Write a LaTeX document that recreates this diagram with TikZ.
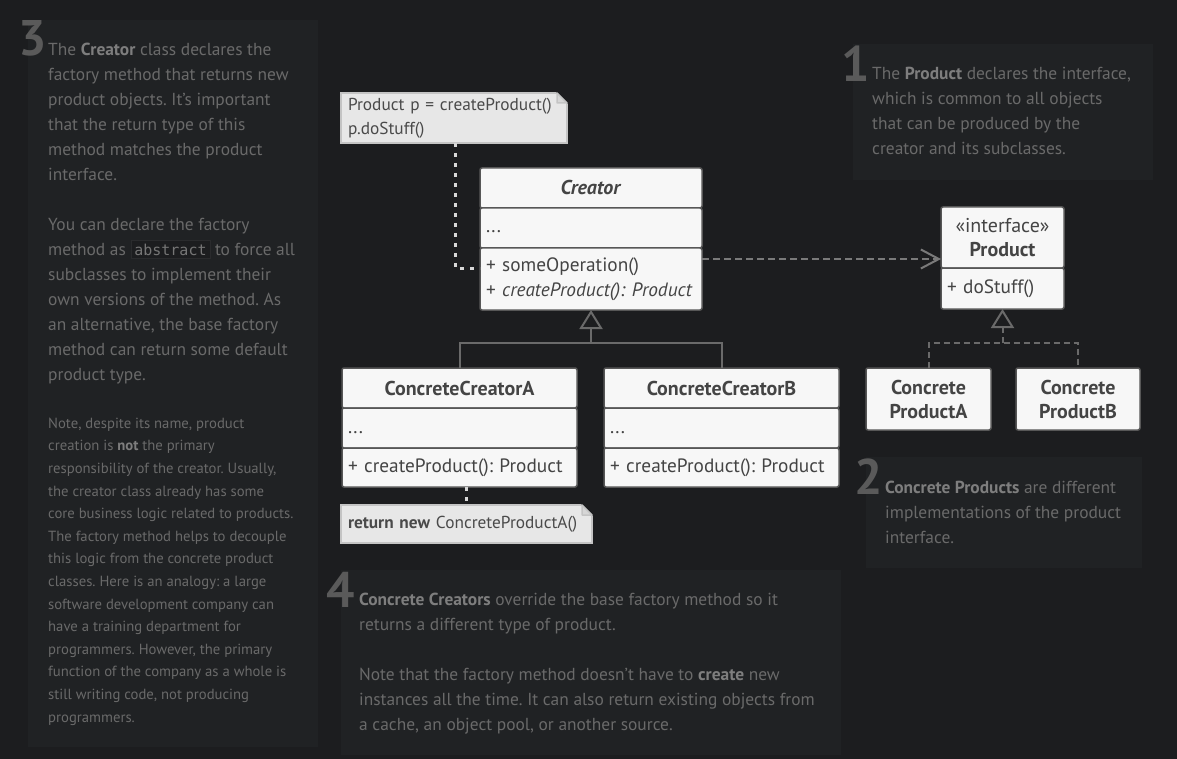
\documentclass[tikz,border=0pt]{standalone}
\usepackage{fontspec}
\setmainfont{PT Sans}
\setmonofont{DejaVu Sans Mono}
\usetikzlibrary{positioning,arrows.meta}
\frenchspacing

\definecolor{pagebg}{HTML}{1C1D1F}
\definecolor{panelbg}{HTML}{202224}
\definecolor{notetext}{HTML}{6A6A6A}
\definecolor{notebold}{HTML}{7E7E7E}
\definecolor{numcol}{HTML}{5A5A5A}
\definecolor{boxfill}{HTML}{F7F7F7}
\definecolor{boxline}{HTML}{575757}
\definecolor{classtext}{HTML}{444444}
\definecolor{memofill}{HTML}{E7E7E7}
\definecolor{memofold}{HTML}{D6D6D6}
\definecolor{memoline}{HTML}{C4C4C4}
\definecolor{memotext}{HTML}{4A4A4A}
\definecolor{memodot}{HTML}{D8D8D8}
\definecolor{linkcol}{HTML}{6A6A6A}
\definecolor{deplink}{HTML}{7A7A7A}
\definecolor{codebg}{HTML}{1C1D1F}
\definecolor{codeline}{HTML}{2A2B2D}
\definecolor{codetext}{HTML}{767676}

\newcommand{\term}[1]{\textbf{\color{notebold}#1}}
\newcommand{\codeword}[1]{{\setlength{\fboxsep}{3pt}\setlength{\fboxrule}{0.8pt}\fcolorbox{codeline}{codebg}{\fontsize{15}{15}\selectfont\ttfamily\color{codetext}#1}}}
\newcommand{\foldcorner}[1]{%
  \fill[pagebg] ([xshift=-11pt,yshift=1pt]#1.north east) -- ([xshift=1pt,yshift=1pt]#1.north east) -- ([xshift=1pt,yshift=-11pt]#1.north east) -- cycle;
  \filldraw[fill=memofold, draw=memoline, line width=1.5pt, line join=round] ([xshift=-10pt]#1.north east) -- ([xshift=-10pt,yshift=-10pt]#1.north east) -- ([yshift=-10pt]#1.north east) -- cycle;}

\tikzset{
  stepnum/.style={inner sep=0pt, text=numcol, font=\fontsize{50}{50}\selectfont\bfseries},
  panetext/.style={inner sep=0pt, align=left, text=notetext, font=\fontsize{17.4}{25}\selectfont},
  panesmall/.style={panetext, font=\fontsize{14.7}{22.6}\selectfont},
  classbox/.style={draw=boxline, fill=boxfill, line width=1.5pt, rounded corners=2pt, outer sep=0pt, text=classtext, font=\fontsize{19.3}{25}\selectfont},
  classtitle/.style={classbox, align=center, font=\fontsize{20}{24}\selectfont\bfseries},
  classpart/.style={classbox, align=left, inner xsep=6pt, inner ysep=0pt},
  memo/.style={draw=memoline, fill=memofill, line width=1.5pt, outer sep=0pt, text=memotext, align=left, inner xsep=7pt, inner ysep=0pt, font=\fontsize{17.3}{24}\selectfont},
  genline/.style={draw=linkcol, line width=2pt},
  gentip/.style={-{Triangle[open, length=19pt, width=23pt]}},
  realline/.style={genline, dash pattern=on 6pt off 4pt},
  depline/.style={draw=deplink, line width=2pt, dash pattern=on 7pt off 4pt, -{Straight Barb[length=18pt, width=19pt]}},
  memolink/.style={draw=memodot, line width=3pt, dash pattern=on 4pt off 6pt},
}

\begin{document}
\begin{tikzpicture}[x=1pt, y=-1pt]

\useasboundingbox (0,0) rectangle (1177,759);
\fill[pagebg] (0,0) rectangle (1177,759);

\fill[panelbg] (28,20) rectangle (318,747);
\fill[panelbg] (853,44) rectangle (1153,180);
\fill[panelbg] (866,457) rectangle (1142,568);
\fill[panelbg] (341,570) rectangle (841,755);

\node[stepnum, anchor=base west] (numcreator) at (18,56) {3};
\node[panetext, anchor=base west] (textcreator) at (48,380) {The \term{Creator} class declares the\\factory method that returns new\\product objects. It’s important\\that the return type of this\\method matches the product\\interface.\\[25pt]You can declare the factory\\method as \codeword{abstract} to force all\\subclasses to implement their\\own versions of the method. As\\an alternative, the base factory\\method can return some default\\product type.};
\node[panesmall, anchor=base west] (textcreatornote) at (48,722) {Note, despite its name, product\\creation is \term{not} the primary\\responsibility of the creator. Usually,\\the creator class already has some\\core business logic related to products.\\The factory method helps to decouple\\this logic from the concrete product\\classes. Here is an analogy: a large\\software development company can\\have a training department for\\programmers. However, the primary\\function of the company as a whole is\\still writing code, not producing\\programmers.};

\node[stepnum, anchor=base west] (numproduct) at (841,82) {1};
\node[panetext, anchor=base west] (textproduct) at (872,155) {The \term{Product} declares the interface,\\which is common to all objects\\that can be produced by the\\creator and its subclasses.};

\node[stepnum, anchor=base west] (numconcrete) at (854,494) {2};
\node[panetext, anchor=base west] (textconcrete) at (885,543) {\term{Concrete Products} are different\\implementations of the product\\interface.};

\node[stepnum, anchor=base west] (numcreators) at (326,607) {4};
\node[panetext, anchor=base west] (textcreators) at (359,730) {\term{Concrete Creators} override the base factory method so it\\returns a different type of product.\\[25pt]Note that the factory method doesn’t have to \term{create} new\\instances all the time. It can also return existing objects from\\a cache, an object pool, or another source.};

\node[classtitle, minimum width=222pt, minimum height=40pt, anchor=north west] (creator) at (480,168) {\textit{Creator}};
\node[classpart, text width=210pt, minimum height=40pt, below=0pt of creator] (creatorfields) {\strut...};
\node[classpart, text width=210pt, minimum height=62pt, below=0pt of creatorfields] (creatorops) {+ someOperation()\\+ \textit{createProduct(): Product}};

\node[classtitle, minimum width=123pt, minimum height=61pt, anchor=north west] (product) at (941,207) {{\mdseries «interface»}\\Product};
\node[classpart, text width=111pt, minimum height=41pt, below=0pt of product] (productops) {+ doStuff()};

\node[classtitle, minimum width=235pt, minimum height=40pt, anchor=north west] (creatora) at (342,368) {ConcreteCreatorA};
\node[classpart, text width=223pt, minimum height=40pt, below=0pt of creatora] (creatorafields) {\strut...};
\node[classpart, text width=223pt, minimum height=39pt, below=0pt of creatorafields] (creatoraops) {+ createProduct(): Product};

\node[classtitle, minimum width=235pt, minimum height=40pt, anchor=north west] (creatorb) at (604,368) {ConcreteCreatorB};
\node[classpart, text width=223pt, minimum height=40pt, below=0pt of creatorb] (creatorbfields) {\strut...};
\node[classpart, text width=223pt, minimum height=39pt, below=0pt of creatorbfields] (creatorbops) {+ createProduct(): Product};

\node[classtitle, minimum width=125pt, minimum height=62pt, anchor=north west] (producta) at (866,368) {Concrete\\ProductA};
\node[classtitle, minimum width=124pt, minimum height=62pt, anchor=north west] (productb) at (1016,368) {Concrete\\ProductB};

\node[memo, text width=212pt, minimum height=50pt, anchor=north west] (memocall) at (341,93) {Product p = createProduct()\\p.doStuff()};
\foldcorner{memocall}
\node[memo, text width=237pt, minimum height=38pt, anchor=north west] (memoreturn) at (341,505) {\textbf{return new} ConcreteProductA()};
\foldcorner{memoreturn}

\draw[memolink] ([xshift=114pt]memocall.south west) |- ([yshift=-20pt]creatorops.north west);
\draw[memolink] ([xshift=7pt]creatoraops.south) -- ([xshift=7pt]creatoraops.south |- memoreturn.north);

\coordinate (depfrom) at ([yshift=-11pt]creatorops.north east);
\draw[depline] (depfrom) -- (depfrom -| product.west);

\coordinate (creatorjoin) at ([yshift=-33pt]creatorops.south);
\draw[genline] (creatora.north) |- (creatorjoin) -| (creatorb.north);
\draw[genline, gentip] (creatorjoin) -- (creatorops.south);

\coordinate (productjoin) at ([yshift=-34pt]productops.south);
\draw[realline] (producta.north) |- (productjoin) -| (productb.north);
\draw[realline, gentip] (productjoin) -- (productops.south);

\end{tikzpicture}
\end{document}
